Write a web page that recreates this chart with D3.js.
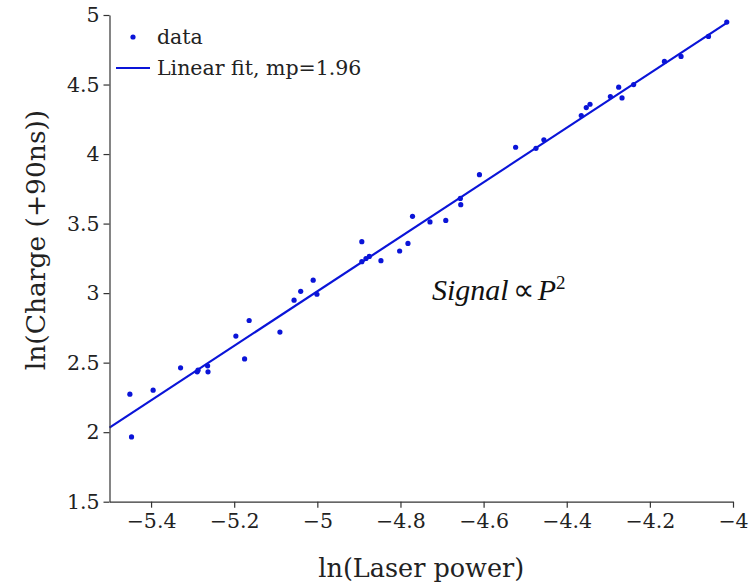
<!DOCTYPE html>
<html>
<head>
<meta charset="utf-8">
<script src="https://cdn.jsdelivr.net/npm/d3@7"></script>
<style>
  html, body { margin: 0; padding: 0; background: #fff; }
  svg { display: block; }
  .axis text { font-family: "DejaVu Serif", serif; font-size: 20.5px; fill: #222; }
  .axis path, .axis line { stroke: #333; stroke-width: 1.2; }
</style>
</head>
<body>
<div id="chart"></div>
<script>
// ---- data ----
const lnPower = [-5.451, -5.447, -5.395, -5.329, -5.289, -5.287, -5.264, -5.263, -5.196, -5.175,
  -5.164, -5.090, -5.056, -5.040, -5.010, -5.001, -4.893, -4.893, -4.883, -4.875,
  -4.847, -4.802, -4.782, -4.771, -4.729, -4.691, -4.656, -4.655, -4.610, -4.523,
  -4.474, -4.455, -4.365, -4.353, -4.344, -4.295, -4.275, -4.267, -4.239, -4.165,
  -4.125, -4.059, -4.015];
const lnCharge = [2.273, 1.966, 2.302, 2.463, 2.434, 2.446, 2.477, 2.434, 2.691, 2.527,
  2.803, 2.720, 2.949, 3.013, 3.093, 2.992, 3.370, 3.226, 3.249, 3.264,
  3.233, 3.303, 3.357, 3.552, 3.512, 3.523, 3.681, 3.636, 3.852, 4.049,
  4.041, 4.102, 4.277, 4.334, 4.358, 4.414, 4.481, 4.404, 4.500, 4.666,
  4.702, 4.846, 4.949];
const fitSlope = 1.96;
const fitIntercept = 12.813;
const fitRange = [-5.5, -4.015];
const xTicks = [-5.4, -5.2, -5.0, -4.8, -4.6, -4.4, -4.2, -4.0];
const yTicks = [1.5, 2, 2.5, 3, 3.5, 4, 4.5, 5];
const xDomain = [-5.5, -4];
const yDomain = [1.5, 5];
const legendLabels = ["data", "Linear fit, mp=1.96"];
const xLabel = "ln(Laser power)";
const yLabel = "ln(Charge (+90ns))";

// ---- chart ----
const W = 755, H = 583;
const svg = d3.select("#chart").append("svg").attr("width", W).attr("height", H);
const x = d3.scaleLinear().domain(xDomain).range([109.5, 733]);
const y = d3.scaleLinear().domain(yDomain).range([501.7, 15]);
const fmt = v => (v < 0 ? "\u2212" : "") + d3.format("~g")(Math.abs(v));

const color = "#0a14d8";

// fit line
const fitPts = fitRange.map(v => [v, fitIntercept + fitSlope * v]);
svg.append("path")
  .attr("d", d3.line().x(d => x(d[0])).y(d => y(d[1]))(fitPts))
  .attr("fill", "none").attr("stroke", color).attr("stroke-width", 2.2);

// data points
svg.append("g").selectAll("circle").data(lnPower.map((v, i) => [v, lnCharge[i]]))
  .join("circle")
  .attr("cx", d => x(d[0])).attr("cy", d => y(d[1])).attr("r", 2.6)
  .attr("fill", color);

// axes
svg.append("g").attr("class", "axis")
  .attr("transform", `translate(0,${y(yDomain[0])})`)
  .call(d3.axisBottom(x).tickValues(xTicks).tickFormat(fmt).tickSizeInner(6).tickSizeOuter(0).tickPadding(6));
svg.append("g").attr("class", "axis")
  .attr("transform", `translate(${x(xDomain[0])},0)`)
  .call(d3.axisLeft(y).tickValues(yTicks).tickFormat(fmt).tickSizeInner(6).tickSizeOuter(0).tickPadding(4));

// axis labels
svg.append("text").attr("x", (x.range()[0] + x.range()[1]) / 2).attr("y", 577)
  .attr("text-anchor", "middle")
  .style("font-family", "DejaVu Serif, serif").style("font-size", "25.5px").style("fill", "#222")
  .text(xLabel);
svg.append("text")
  .attr("transform", `translate(45,240) rotate(-90)`)
  .attr("text-anchor", "middle")
  .style("font-family", "DejaVu Serif, serif").style("font-size", "26.5px").style("fill", "#222")
  .text(yLabel);

// legend
const lg = svg.append("g");
lg.append("circle").attr("cx", 133).attr("cy", 37).attr("r", 2.6).attr("fill", color);
lg.append("line").attr("x1", 116).attr("x2", 150).attr("y1", 68).attr("y2", 68)
  .attr("stroke", color).attr("stroke-width", 2.2);
lg.selectAll("text").data(legendLabels).join("text")
  .attr("x", 157).attr("y", (d, i) => 44 + i * 31)
  .style("font-family", "DejaVu Serif, serif").style("font-size", "20.5px").style("fill", "#222")
  .text(d => d);

// annotation
const ann = svg.append("text").attr("x", 432).attr("y", 300)
  .style("font-family", "Liberation Serif, serif").style("font-size", "30px").style("fill", "#111");
ann.append("tspan").style("font-style", "italic").text("Signal");
ann.append("tspan").attr("dx", 4).text("\u221D");
ann.append("tspan").attr("dx", 4).style("font-style", "italic").text("P");
ann.append("tspan").attr("dy", -11).style("font-size", "19px").text("2");
</script>
</body>
</html>
